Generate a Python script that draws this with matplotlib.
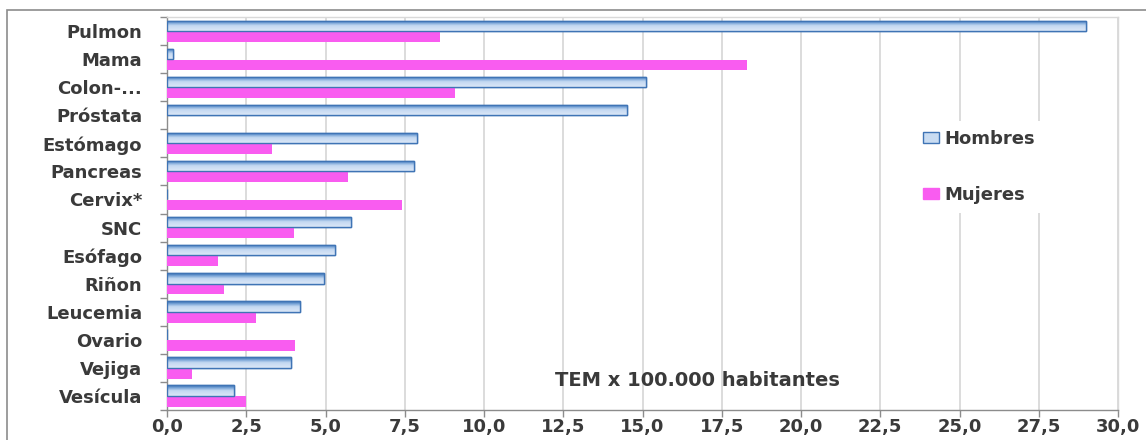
import numpy as np
import matplotlib
matplotlib.use("Agg")
import matplotlib.pyplot as plt
from matplotlib.patches import Rectangle, Patch
from matplotlib.colors import LinearSegmentedColormap

plt.rcParams['font.family'] = ['DejaVu Sans']

categories = ["Pulmon", "Mama", "Colon-...", "Próstata", "Estómago", "Pancreas",
              "Cervix*", "SNC", "Esófago", "Riñon", "Leucemia", "Ovario",
              "Vejiga", "Vesícula"]
hombres = [29.0, 0.2, 15.1, 14.5, 7.9, 7.8, 0.0, 5.8, 5.3, 4.95, 4.2, 0.0, 3.9, 2.1]
mujeres = [8.6, 18.3, 9.1, 0.0, 3.3, 5.7, 7.4, 4.0, 1.6, 1.8, 2.8, 4.05, 0.8, 2.5]
xticks = [0, 2.5, 5, 7.5, 10, 12.5, 15, 17.5, 20, 22.5, 25, 27.5, 30]
xticklabels = ["0,0", "2,5", "5,0", "7,5", "10,0", "12,5", "15,0", "17,5",
               "20,0", "22,5", "25,0", "27,5", "30,0"]

pink = "#f95cf0"
blue_edge = "#3f74b5"
text_col = "#3a3a3a"
grid_col = "#d9d9d9"

fig = plt.figure(figsize=(11.46, 4.40), dpi=100)
ax = fig.add_axes([167 / 1146, 1 - 410 / 440, (1118 - 167) / 1146, (410 - 17) / 440])

y = np.arange(len(categories))
h = 0.37
bars_h = ax.barh(y - 0.19, hombres, height=h, color="#c9dcf2",
                 edgecolor=blue_edge, linewidth=1.0, zorder=3)
bars_m = ax.barh(y + 0.2, mujeres, height=h, color=pink, linewidth=0, zorder=3)

# vertical shading inside the Hombres bars: dark band on top, lighter below
grad_cmap = LinearSegmentedColormap.from_list(
    "hgrad", [(0.0, "#3a70b3"), (0.22, "#6f9dd3"), (0.5, "#c3d8f1"), (1.0, "#dce8f7")])
grad = np.linspace(0, 1, 64).reshape(-1, 1)
for b in bars_h:
    w = b.get_width()
    if w <= 0:
        continue
    y0 = b.get_y()
    im = ax.imshow(grad, cmap=grad_cmap, aspect="auto", origin="upper",
                   extent=[0, w, y0 + h, y0], zorder=3.5, interpolation="bilinear")
    im.set_clip_path(b)
    ax.add_patch(Rectangle((0, y0), w, h, fill=False, edgecolor=blue_edge,
                           linewidth=1.0, zorder=4))

ax.set_xlim(0, 30)
ax.set_ylim(len(categories) - 0.5, -0.5)

ax.set_xticks(xticks)
ax.set_xticklabels(xticklabels)
ax.set_yticks(y)
ax.set_yticklabels(categories)
ax.set_yticks(np.arange(len(categories) + 1) - 0.5, minor=True)

ax.tick_params(axis="x", length=5, width=1, color="#8c8c8c", pad=1,
               labelsize=13, labelcolor=text_col)
ax.tick_params(axis="y", which="major", length=0, pad=18,
               labelsize=13, labelcolor=text_col)
ax.tick_params(axis="y", which="minor", length=5, width=1, color="#8c8c8c")
for lab in ax.get_xticklabels() + ax.get_yticklabels():
    lab.set_fontweight("bold")

ax.grid(axis="x", color=grid_col, linewidth=1.3, zorder=0)
ax.set_axisbelow(True)
for side in ("left", "bottom"):
    ax.spines[side].set_color("#8c8c8c")
    ax.spines[side].set_linewidth(1.0)
for side in ("top", "right"):
    ax.spines[side].set_color(grid_col)
    ax.spines[side].set_linewidth(1.0)

handles = [Patch(facecolor="#c9dcf2", edgecolor=blue_edge, linewidth=1.0),
           Patch(facecolor=pink, edgecolor=pink)]
leg = ax.legend(handles, ["Hombres", "Mujeres"], loc="upper left",
                bbox_to_anchor=((905 - 167) / 951, (410 - 112) / 393),
                frameon=True, facecolor="white", edgecolor="none", framealpha=1,
                fancybox=False, borderpad=0.5,
                labelspacing=2.1, handlelength=0.9,
                handleheight=0.6, handletextpad=0.3,
                prop={"size": 13, "weight": "bold"})
for t in leg.get_texts():
    t.set_color(text_col)

ax.text((697 - 167) / 951, (410 - 381) / 393, "TEM x 100.000 habitantes",
        transform=ax.transAxes, ha="center", va="center", fontsize=14,
        fontweight="bold", color=text_col)

# outer chart frame
fig.patches.append(Rectangle((7 / 1146, -0.05), 1.2, 1 - 10 / 440 + 0.05,
                             transform=fig.transFigure, fill=False,
                             edgecolor="#8c8c8c", linewidth=1.2))

fig.savefig("out.png", dpi=100, facecolor="white")
